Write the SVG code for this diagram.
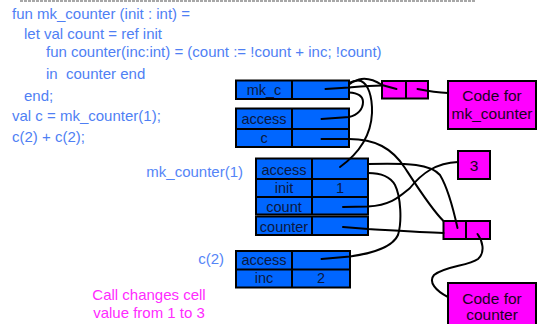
<svg xmlns="http://www.w3.org/2000/svg" width="539" height="324" viewBox="0 0 539 324">
  <style>
    .code { font-family: "Liberation Sans", Arial, sans-serif; font-size: 15px; fill: #4f7ff4; }
    .lbl { font-family: "Liberation Sans", Arial, sans-serif; font-size: 15px; fill: #5585f7; }
    .note { font-family: "Liberation Sans", Arial, sans-serif; font-size: 15px; fill: #ff2bff; text-anchor: middle; }
    .cell { fill: #0066ff; stroke: #000; stroke-width: 2; }
    .mag { fill: #ff00ff; stroke: #000; stroke-width: 2; }
    .bt { font-family: "Liberation Sans", Arial, sans-serif; font-size: 14.5px; fill: #0b1840; text-anchor: middle; }
    .mt { font-family: "Liberation Sans", Arial, sans-serif; font-size: 15.5px; fill: #1a0022; text-anchor: middle; }
    .wire { fill: none; stroke: #000; stroke-width: 2; stroke-linecap: round; }
  </style>

  <!-- rule along the top edge -->
  <line x1="20" y1="1" x2="475" y2="1" stroke="#8a8a8a" stroke-width="1.5" stroke-dasharray="3 1"/>

  <!-- source program -->
  <g id="program">
    <text class="code" x="12" y="19">fun mk_counter (init : int) =</text>
    <text class="code" x="24" y="39">let val count = ref init</text>
    <text class="code" x="46" y="57">fun counter(inc:int) = (count := !count + inc; !count)</text>
    <text class="code" x="46" y="79" xml:space="preserve">in  counter end</text>
    <text class="code" x="24" y="101">end;</text>
    <text class="code" x="12" y="121">val c = mk_counter(1);</text>
    <text class="code" x="12" y="142">c(2) + c(2);</text>
  </g>

  <!-- global record: mk_c -->
  <g id="ar-mk_c">
    <rect class="cell" x="236" y="80.5" width="113" height="18.5"/>
    <line x1="292" y1="80.5" x2="292" y2="99" stroke="#000" stroke-width="2"/>
    <text class="bt" x="264" y="95">mk_c</text>
  </g>

  <!-- record: access / c -->
  <g id="ar-c">
    <rect class="cell" x="236" y="108.5" width="113" height="38.5"/>
    <line x1="236" y1="129" x2="349" y2="129" stroke="#000" stroke-width="2"/>
    <line x1="292" y1="108.5" x2="292" y2="147" stroke="#000" stroke-width="2"/>
    <text class="bt" x="264" y="124">access</text>
    <text class="bt" x="264" y="143">c</text>
  </g>

  <!-- activation record of mk_counter(1) -->
  <g id="ar-mk_counter">
    <text class="lbl" x="243" y="177" text-anchor="end">mk_counter(1)</text>
    <rect class="cell" x="256" y="158.5" width="112" height="56"/>
    <line x1="256" y1="179" x2="368" y2="179" stroke="#000" stroke-width="2"/>
    <line x1="256" y1="197" x2="368" y2="197" stroke="#000" stroke-width="2"/>
    <line x1="312" y1="158.5" x2="312" y2="214.5" stroke="#000" stroke-width="2"/>
    <rect class="cell" x="256" y="216.5" width="112" height="18.5"/>
    <line x1="312" y1="216.5" x2="312" y2="235" stroke="#000" stroke-width="2"/>
    <text class="bt" x="284" y="175">access</text>
    <text class="bt" x="284" y="193">init</text>
    <text class="bt" x="340" y="193">1</text>
    <text class="bt" x="284" y="212">count</text>
    <text class="bt" x="284" y="231.5">counter</text>
  </g>

  <!-- activation record of c(2) -->
  <g id="ar-c2">
    <text class="lbl" x="224" y="264" text-anchor="end">c(2)</text>
    <rect class="cell" x="236" y="251" width="114" height="36.5"/>
    <line x1="236" y1="269.5" x2="350" y2="269.5" stroke="#000" stroke-width="2"/>
    <line x1="292" y1="251" x2="292" y2="287.5" stroke="#000" stroke-width="2"/>
    <text class="bt" x="264" y="265">access</text>
    <text class="bt" x="264" y="283">inc</text>
    <text class="bt" x="321" y="283">2</text>
  </g>

  <!-- closure for mk_counter -->
  <g id="closure-mk_counter">
    <rect class="mag" x="382" y="81" width="46" height="17.5"/>
    <line x1="406" y1="81" x2="406" y2="98.5" stroke="#000" stroke-width="2"/>
  </g>

  <g id="code-mk_counter">
    <rect class="mag" x="448" y="81" width="88" height="48"/>
    <text class="mt" x="492" y="101">Code for</text>
    <text class="mt" x="492" y="118.5">mk_counter</text>
  </g>

  <!-- cell holding count -->
  <g id="count-cell">
    <rect class="mag" x="458" y="151" width="32" height="28"/>
    <text class="mt" x="474" y="171">3</text>
  </g>

  <!-- closure for counter -->
  <g id="closure-counter">
    <rect class="mag" x="443.5" y="221" width="46.5" height="18"/>
    <line x1="466" y1="221" x2="466" y2="239" stroke="#000" stroke-width="2"/>
  </g>

  <g id="code-counter">
    <rect class="mag" x="448" y="283" width="88" height="45"/>
    <text class="mt" x="492" y="303.5">Code for</text>
    <text class="mt" x="492" y="320">counter</text>
  </g>

  <!-- caption -->
  <g id="caption">
    <text class="note" x="149" y="299.5">Call changes cell</text>
    <text class="note" x="149" y="317.5">value from 1 to 3</text>
  </g>

  <!-- pointers -->
  <g id="connectors">
    <!-- mk_c to its closure -->
    <path class="wire" d="M325.5,89 L349,87.5 C360,86.5 370,85.5 382,85.5"/>
    <!-- closure environment back to global record -->
    <path class="wire" d="M396.5,89 L382,85 C375,80.5 366,77.5 359,79.5 C354,81 351,83 349,84.5"/>
    <!-- closure code pointer -->
    <path class="wire" d="M417.5,89 C425,90.5 436,92.5 448,93"/>
    <!-- access link of second record -->
    <path class="wire" d="M321.5,119 L349,117 C358,115 363,109 363,102 C363,96 357,93 349,92.5"/>
    <!-- access link of mk_counter(1) -->
    <path class="wire" d="M340,167 C358,154 371,136 372,113 C372.5,96 368,84 361,81 C356,79.5 352,81.5 349,83"/>
    <!-- c to counter closure -->
    <path class="wire" d="M321.5,139 L349,139 C375,139 392,148 405,168 C418,188 432,210 443.5,221"/>
    <!-- count to cell holding 3 -->
    <path class="wire" d="M343,207 L368,206.5 C392,205 400,196 410,188 C422,173 436,163 458,162"/>
    <!-- counter to its closure -->
    <path class="wire" d="M343,227 L368,229 C395,230.5 420,232 443.5,233"/>
    <!-- counter closure environment to mk_counter(1) -->
    <path class="wire" d="M457.5,228 C454,212 449,190 440,175 C430,164 410,163 368,164"/>
    <!-- counter closure code pointer -->
    <path class="wire" d="M477.5,234 C482,240 486,252 478,259 C468,266 445,266 434,275 C428,282 436,291 448,297"/>
    <!-- access link of c(2) -->
    <path class="wire" d="M321.5,259 L350,256.5 C375,253 393,246 398,235 C402,222 401,197 395,185 C390,176 380,173 368,173"/>
  </g>
</svg>
